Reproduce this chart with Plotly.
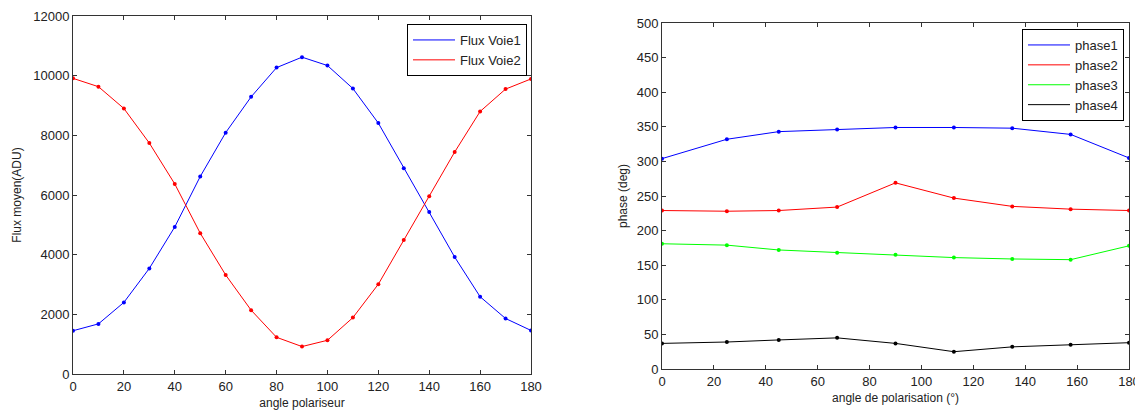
import plotly.graph_objects as go

# ---- Left chart data ----
angle_pol = [0, 10, 20, 30, 40, 50, 60, 70, 80, 90, 100, 110, 120, 130, 140, 150, 160, 170, 180]
flux_voie1 = [1450, 1680, 2400, 3540, 4930, 6620, 8090, 9290, 10270, 10620, 10340, 9570,
              8410, 6900, 5430, 3920, 2590, 1860, 1460]
flux_voie2 = [9910, 9630, 8900, 7740, 6370, 4720, 3320, 2140, 1230, 920, 1130, 1890,
              3010, 4490, 5960, 7440, 8800, 9550, 9890]

# ---- Right chart data ----
angle_phase = [0, 25, 45, 67.5, 90, 112.5, 135, 157.5, 180]
phase1 = [304, 332, 343, 346, 349, 349, 348, 339, 305]
phase2 = [229, 228, 229, 234, 269, 247, 235, 231, 229]
phase3 = [181, 179, 172, 168, 165, 161, 159, 158, 178]
phase4 = [37, 39, 42, 45, 37, 25, 32, 35, 38]

FONT = "Liberation Sans, Arial, sans-serif"
AXCOL = "#333333"

# page body margin offset (8px) compensation
OFF = 8
W = 1143 - OFF
H = 410 - OFF

def px(v):
    return (v - OFF) / W

def py(v):
    return (H - (v - OFF)) / H

fig = go.Figure()

def add_series(x, y, name, color, xa, ya, legend):
    fig.add_trace(go.Scatter(x=x, y=y, mode="lines", name=name,
                             line=dict(color=color, width=1),
                             xaxis=xa, yaxis=ya, legend=legend))
    fig.add_trace(go.Scatter(x=x, y=y, mode="markers", name=name, showlegend=False,
                             marker=dict(color=color, size=4, symbol="circle"),
                             xaxis=xa, yaxis=ya, hoverinfo="skip"))

add_series(angle_pol, flux_voie1, "Flux Voie1", "#0000FF", "x", "y", "legend")
add_series(angle_pol, flux_voie2, "Flux Voie2", "#FF0000", "x", "y", "legend")
add_series(angle_phase, phase1, "phase1", "#0000FF", "x2", "y2", "legend2")
add_series(angle_phase, phase2, "phase2", "#FF0000", "x2", "y2", "legend2")
add_series(angle_phase, phase3, "phase3", "#00FF00", "x2", "y2", "legend2")
add_series(angle_phase, phase4, "phase4", "#000000", "x2", "y2", "legend2")

axis_common = dict(showline=True, linecolor=AXCOL, linewidth=1, mirror="ticks",
                   ticks="inside", ticklen=4, tickcolor=AXCOL, showgrid=False,
                   zeroline=False, automargin=False, tickformat="d",
                   tickfont=dict(size=13, color="#222", family=FONT))

fig.update_layout(
    width=W, height=H,
    margin=dict(l=0, r=0, t=0, b=0),
    paper_bgcolor="white", plot_bgcolor="white",
    font=dict(family=FONT, size=12, color="#222"),
    xaxis=dict(domain=[px(73), px(531)], range=[0, 180], dtick=20, anchor="y",
               title=dict(text="angle polariseur", font=dict(size=12), standoff=8),
               **axis_common),
    yaxis=dict(domain=[py(374), py(16)], range=[0, 12000], dtick=2000, anchor="x",
               title=dict(text="Flux moyen(ADU)", font=dict(size=12), standoff=9),
               **axis_common),
    xaxis2=dict(domain=[px(662), px(1129)], range=[0, 180], dtick=20, anchor="y2",
                title=dict(text="angle de polarisation (°)", font=dict(size=12), standoff=6),
                **axis_common),
    yaxis2=dict(domain=[py(369), py(23)], range=[0, 500], dtick=50, anchor="x2",
                title=dict(text="phase (deg)", font=dict(size=12), standoff=6),
                **axis_common),
    legend=dict(x=px(527), y=py(24), xanchor="right", yanchor="top",
                bordercolor="#000", borderwidth=1, bgcolor="white",
                font=dict(size=13, family=FONT, color="#222"),
                itemwidth=42, tracegroupgap=0),
    legend2=dict(x=px(1124), y=py(29), xanchor="right", yanchor="top",
                 bordercolor="#000", borderwidth=1, bgcolor="white",
                 font=dict(size=13, family=FONT, color="#222"),
                 itemwidth=42, tracegroupgap=0),
)

fig.write_html("out.html")
